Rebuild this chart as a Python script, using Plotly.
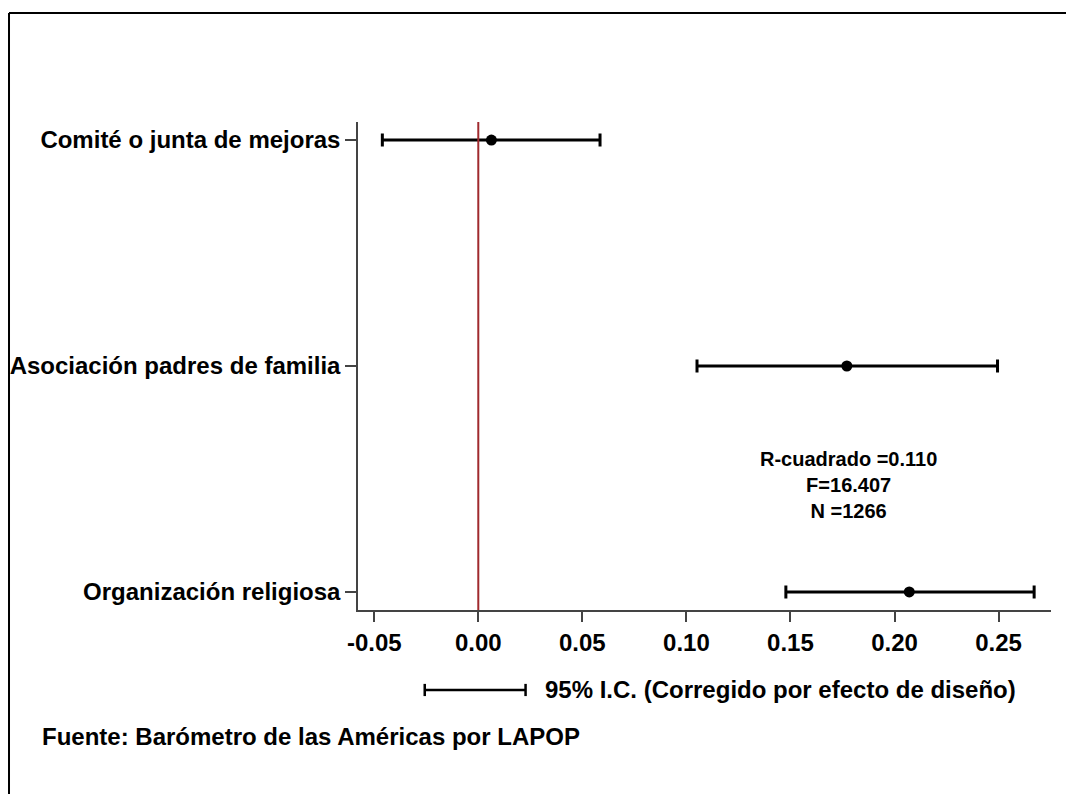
import plotly.graph_objects as go

categories = ["Comité o junta de mejoras", "Asociación padres de familia", "Organización religiosa"]
coef = [0.0063, 0.1771, 0.2071]
ci_low = [-0.0461, 0.1051, 0.1478]
ci_high = [0.0585, 0.2495, 0.2671]
tick_vals = [-0.05, 0.0, 0.05, 0.10, 0.15, 0.20, 0.25]
tick_text = ["-0.05", "0.00", "0.05", "0.10", "0.15", "0.20", "0.25"]
stats_lines = ["R-cuadrado =0.110", "F=16.407", "N =1266"]
legend_text = "95% I.C. (Corregido por efecto de diseño)"
source_text = "Fuente: Barómetro de las Américas por LAPOP"

FONT = "Liberation Sans, Arial, sans-serif"
FS = 24

err_plus = [h - c for h, c in zip(ci_high, coef)]
err_minus = [c - l for c, l in zip(coef, ci_low)]

fig = go.Figure()
fig.add_trace(go.Scatter(
    x=coef, y=categories, mode="markers",
    marker=dict(color="black", size=11, symbol="circle"),
    error_x=dict(type="data", symmetric=False, array=err_plus, arrayminus=err_minus,
                 color="black", thickness=3, width=6.5),
    showlegend=False,
))

# page body has an 8px margin: figure is sized/placed to compensate
fig.update_layout(
    width=1066, height=786,
    margin=dict(l=350, r=23, t=114, b=184),
    plot_bgcolor="white", paper_bgcolor="white",
    font=dict(family=FONT, size=FS, color="black"),
    xaxis=dict(range=[-0.0578, 0.2752], tickvals=tick_vals, ticktext=tick_text,
               showgrid=False, zeroline=False, showline=True, linecolor="#444",
               linewidth=1.5, ticks="outside", ticklen=10, tickcolor="#444", tickwidth=1.5,
               tickfont=dict(family=FONT, size=24, color="black", weight="bold")),
    yaxis=dict(type="category", categoryorder="array", categoryarray=categories,
               range=[2.08, -0.08], showgrid=False, zeroline=False, showline=True,
               linecolor="#444", linewidth=1.5, ticks="outside", ticklen=11,
               tickcolor="#444", tickwidth=1.5, automargin=False,
               tickfont=dict(family=FONT, size=FS, color="black", weight="bold")),
)

# reference line at zero
fig.add_shape(type="line", xref="x", yref="paper", x0=0, x1=0, y0=0, y1=1,
              line=dict(color="#a02a2e", width=2))

# outer border (top and left visible)
bx = -0.5036
fig.add_shape(type="line", xref="paper", yref="paper", x0=bx, x1=1.2, y0=1.2234, y1=1.2234,
              line=dict(color="black", width=2))
fig.add_shape(type="line", xref="paper", yref="paper", x0=bx, x1=bx, y0=1.2234, y1=-0.5,
              line=dict(color="black", width=2))

# legend symbol
ly = -0.1639
lx0, lx1 = 0.0963, 0.2418
cap = 0.0125
fig.add_shape(type="line", xref="paper", yref="paper", x0=lx0, x1=lx1, y0=ly, y1=ly,
              line=dict(color="black", width=2.5))
for xx in (lx0, lx1):
    fig.add_shape(type="line", xref="paper", yref="paper", x0=xx, x1=xx, y0=ly - cap, y1=ly + cap,
                  line=dict(color="black", width=2.5))
fig.add_annotation(text="<b>" + legend_text + "</b>", xref="paper", yref="paper",
                   x=0.2667, y=ly, xanchor="left", yanchor="middle", showarrow=False,
                   font=dict(family=FONT, size=FS, color="black"))

# stats block
fig.add_annotation(text="<br>".join("<b>" + s + "</b>" for s in stats_lines),
                   xref="x", yref="paper", x=0.178, y=0.2561,
                   xanchor="center", yanchor="middle", showarrow=False, align="center",
                   font=dict(family=FONT, size=20, color="black"))

# source
fig.add_annotation(text="<b>" + source_text + "</b>", xref="paper", yref="paper",
                   x=-0.4589, y=-0.2602, xanchor="left", yanchor="middle", showarrow=False,
                   font=dict(family=FONT, size=FS, color="black"))

fig.write_html("out.html")
